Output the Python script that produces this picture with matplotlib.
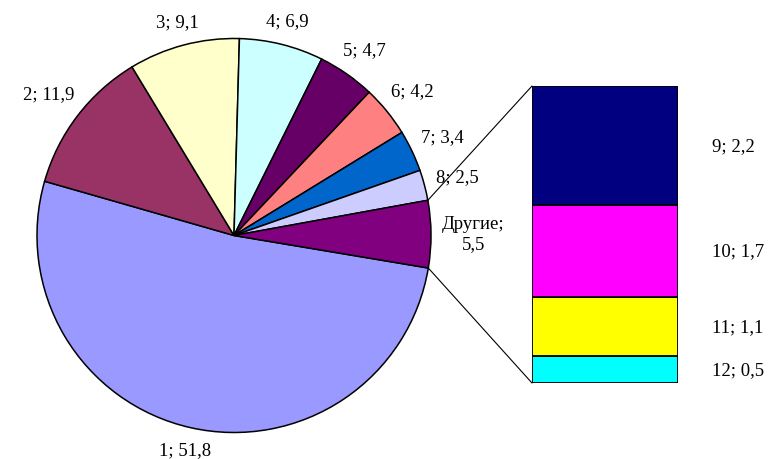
import numpy as np
import matplotlib
matplotlib.use("Agg")
import matplotlib.pyplot as plt
from matplotlib.patches import ConnectionPatch

plt.rcParams['font.family'] = ['Liberation Serif', 'DejaVu Serif']

# pie: main categories, the last one ("Другие") is split in the bar
pie_names = ['1', '2', '3', '4', '5', '6', '7', '8', 'Другие']
pie_vals = [51.8, 11.9, 9.1, 6.9, 4.7, 4.2, 3.4, 2.5, 5.5]
pie_colors = ['#9999FF', '#993366', '#FFFFCC', '#CCFFFF', '#660066',
              '#FF8080', '#0066CC', '#CCCCFF', '#800080']

# bar: breakdown of "Другие", top to bottom
bar_names = ['9', '10', '11', '12']
bar_vals = [2.2, 1.7, 1.1, 0.5]
bar_colors = ['#000080', '#FF00FF', '#FFFF00', '#00FFFF']

W, H = 769, 460
fig = plt.figure(figsize=(W / 100, H / 100), dpi=100)
ax = fig.add_axes([0, 0, 1, 1])

cx, cy, R = 234, H - 236.5, 197
wedges, _ = ax.pie(pie_vals, colors=pie_colors, radius=R, center=(cx, cy),
                   startangle=-9.5, counterclock=False,
                   wedgeprops=dict(edgecolor='black', linewidth=1.1))
ax.set_xlim(0, W)
ax.set_ylim(0, H)
ax.set_aspect('equal')
ax.axis('off')

def fmt(v):
    return ('%g' % v).replace('.', ',')

fs = 13.5

# labels outside the pie, just beyond the rim
renderer = fig.canvas.get_renderer()
gap = 11
for w, name, v in zip(wedges, pie_names, pie_vals):
    a = np.deg2rad((w.theta1 + w.theta2) / 2)
    c, s = np.cos(a), np.sin(a)
    if name == 'Другие':
        label = name + ';\n' + fmt(v)
    else:
        label = name + '; ' + fmt(v)
    t = ax.text(cx, cy, label, ha='center', va='center', fontsize=fs,
                linespacing=1.25)
    bb = t.get_window_extent(renderer)
    hw, hh = bb.width / 2, bb.height / 2
    d = R + gap + abs(c) * hw + abs(s) * hh
    x, y = cx + d * c, cy + d * s
    # keep the text inside the picture
    y = min(max(y, hh + 1), H - hh - 1)
    t.set_position((x, y))

# stacked bar for "Другие"
bl, bb_, bw, bh = 532, 384, 146, 297
bax = fig.add_axes([bl / W, (H - bb_) / H, bw / W, bh / H])
bottom = 0
for name, v, col in reversed(list(zip(bar_names, bar_vals, bar_colors))):
    bax.bar(0, v, width=1, bottom=bottom, color=col, edgecolor='black',
            linewidth=1.3)
    bax.text(1.233, bottom + v / 2, name + '; ' + fmt(v),
             transform=bax.get_yaxis_transform(), ha='left', va='center',
             fontsize=fs)
    bottom += v
bax.set_xlim(-0.5, 0.5)
bax.set_ylim(0, sum(bar_vals))
bax.axis('off')

# connector lines from the "Другие" slice to the bar
other = wedges[-1]
for ang, yfrac in [(other.theta2, 1), (other.theta1, 0)]:
    a = np.deg2rad(ang)
    con = ConnectionPatch(xyA=(cx + R * np.cos(a), cy + R * np.sin(a)),
                          coordsA=ax.transData, xyB=(0, yfrac),
                          coordsB=bax.transAxes, color='black', linewidth=0.8)
    fig.add_artist(con)

fig.savefig('out.png', dpi=100)
